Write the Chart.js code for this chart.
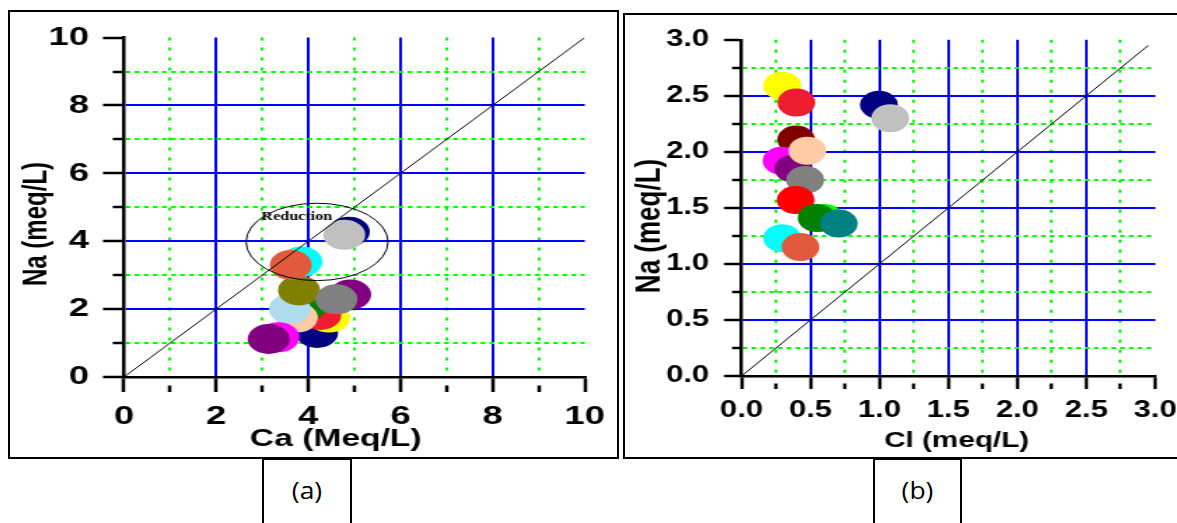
<!DOCTYPE html>
<html><head><meta charset="utf-8">
<script src="https://cdn.jsdelivr.net/npm/chart.js@4.4.1/dist/chart.umd.min.js"></script>
<style>
html,body{margin:0;padding:0;background:#fff;}
body{width:1177px;height:523px;overflow:hidden;position:relative;}
.panel{position:absolute;border:2px solid #000;box-sizing:border-box;background:#fff;}
.wrap{position:absolute;transform-origin:0 0;}
.lbl{position:absolute;border:2px solid #000;border-bottom:none;box-sizing:border-box;background:#fff;}
.lbl span{position:absolute;left:0;right:0;top:15px;line-height:30px;text-align:center;font-family:"Open Sans",Lato,sans-serif;font-size:23px;color:#000;transform:scaleX(1.15);}
</style></head>
<body>
<div class="panel" style="left:8px;top:10px;width:611px;height:449px;"></div>
<div class="panel" style="left:623px;top:13px;width:600px;height:446px;"></div>
<div class="wrap" style="left:10px;top:12px;transform:scaleX(1.4);"><canvas id="ca" width="434" height="444"></canvas></div>
<div class="wrap" style="left:626px;top:15px;transform:scaleX(1.35);"><canvas id="cb" width="416" height="441"></canvas></div>
<div class="lbl" style="left:262px;top:458px;width:90px;height:80px;"><span>(a)</span></div>
<div class="lbl" style="left:873px;top:458px;width:89px;height:80px;"><span>(b)</span></div>
<script>
// ---------- Data (a): Na vs Ca ----------
const caA = [4.19, 4.45, 4.26, 3.93, 3.75, 3.60, 3.35, 3.14, 3.80, 4.91, 4.61, 3.85, 3.62, 4.88, 4.78];
const naA = [1.30, 1.75, 1.83, 2.08, 1.75, 2.00, 1.17, 1.12, 2.55, 2.43, 2.29, 3.40, 3.30, 4.28, 4.19];
const colorsA = ['#000080','#FFFF00','#ED1C2E','#008000','#FFCBA4','#B0DCF0','#FF00FF','#800080',
                 '#808000','#800080','#808080','#00FFFF','#E15A3E','#000080','#C0C0C0'];
// ---------- Data (b): Na vs Cl ----------
const clB = [0.294, 0.397, 0.996, 1.078, 0.396, 0.290, 0.375, 0.477, 0.461, 0.392, 0.600, 0.545, 0.705, 0.294, 0.427];
const naB = [2.59, 2.44, 2.42, 2.30, 2.11, 1.92, 1.85, 2.01, 1.75, 1.57, 1.41, 1.41, 1.36, 1.23, 1.15];
const colorsB = ['#FFFF00','#ED1C2E','#000080','#C0C0C0','#800000','#FF00FF','#800080','#FFCBA4',
                 '#808080','#FF0000','#00FF00','#008000','#008080','#00FFFF','#E15A3E'];
// ---------- Axes ----------
const ticksA = [0,1,2,3,4,5,6,7,8,9,10];
const ticksB = [0,0.25,0.5,0.75,1,1.25,1.5,1.75,2,2.25,2.5,2.75,3];
const lineA = [0, 10];      // 1:1 line
const lineB = [0, 2.95];    // 1:1 line
const reductionCenter = [4.19, 3.98];
const reductionRadii = [1.54, 1.14];
const reductionLabelAt = [3.75, 4.72];

const FONT = '"Liberation Sans", Arial, sans-serif';

function axis(cfg) {
  const minor = v => !cfg.isMajor(v);
  return {
    type: 'linear', min: cfg.min, max: cfg.max,
    afterBuildTicks: s => { s.ticks = cfg.ticks.map(v => ({value: v})); },
    afterFit: cfg.fit,
    ticks: {
      autoSkip: false, maxRotation: 0, minRotation: 0, padding: cfg.pad, color: '#000',
      font: {family: FONT, weight: 'bold', size: cfg.fs},
      callback: v => cfg.isMajor(v) ? cfg.fmt(v) : ''
    },
    grid: {
      color: c => {
        if (!c.tick) return 'rgba(0,0,0,0)';
        const v = c.tick.value;
        if (v <= cfg.min + 1e-9 || v >= cfg.max - 1e-9) return 'rgba(0,0,0,0)';
        return cfg.isMajor(v) ? '#0000FF' : '#00FF00';
      },
      lineWidth: 2,
      drawTicks: true, tickLength: cfg.tl, tickWidth: 2.5, tickColor: '#000',
      tickBorderDash: c => (c.tick && minor(c.tick.value)) ? [0, cfg.tl - cfg.tlMinor, cfg.tlMinor + 3, 200] : []
    },
    border: {display: true, color: '#000', width: 2.5,
      dash: c => (c.tick && minor(c.tick.value)) ? cfg.dash : []},
    title: {display: true, text: cfg.title, color: '#000',
      font: {family: FONT, weight: 'bold', size: cfg.tfs}, padding: cfg.tpad}
  };
}

const reductionPlugin = {
  id: 'reduction',
  afterDatasetsDraw(chart) {
    const {ctx, scales: {x, y}} = chart;
    const cx = x.getPixelForValue(reductionCenter[0]);
    const cy = y.getPixelForValue(reductionCenter[1]);
    const rx = x.getPixelForValue(reductionCenter[0] + reductionRadii[0]) - cx;
    const ry = cy - y.getPixelForValue(reductionCenter[1] + reductionRadii[1]);
    ctx.save();
    ctx.beginPath();
    ctx.ellipse(cx, cy, rx, ry, 0, 0, Math.PI * 2);
    ctx.lineWidth = 1; ctx.strokeStyle = '#000'; ctx.stroke();
    ctx.font = 'bold 11.5px "Liberation Serif", "Times New Roman", serif';
    ctx.fillStyle = '#000'; ctx.textAlign = 'center'; ctx.textBaseline = 'middle';
    ctx.fillText('Reduction', x.getPixelForValue(reductionLabelAt[0]), y.getPixelForValue(reductionLabelAt[1]));
    ctx.restore();
  }
};

const common = {
  responsive: false, animation: false,
  plugins: {legend: {display: false}, tooltip: {enabled: false}}
};

const isIntEven = v => Math.abs(v / 2 - Math.round(v / 2)) < 1e-9;
const isHalf = v => Math.abs(v * 2 - Math.round(v * 2)) < 1e-9;

new Chart(document.getElementById('ca'), {
  type: 'scatter',
  data: {datasets: [
    {data: lineA.map(v => ({x: v, y: v})), showLine: true, borderColor: '#000', borderWidth: 1,
     pointRadius: 0, order: 0},
    {data: caA.map((x, i) => ({x, y: naA[i]})), backgroundColor: colorsA, pointRadius: 15,
     pointHoverRadius: 15, pointBorderWidth: 0, borderWidth: 0, order: 1}
  ]},
  options: Object.assign({}, common, {
    layout: {padding: {left: 0, top: 21, right: 18.3, bottom: 0}},
    scales: {
      x: axis({min: 0, max: 10, ticks: ticksA, isMajor: isIntEven, fmt: v => String(v),
        fit: s => { s.height = 79; }, pad: 9, fs: 26, tl: 15, tlMinor: 8, dash: [3, 7],
        title: 'Ca (Meq/L)    ', tfs: 24, tpad: {top: 0, bottom: 2}}),
      y: axis({min: 0, max: 10, ticks: ticksA, isMajor: isIntEven, fmt: v => String(v),
        fit: s => { s.width = 81.4; }, pad: 10, fs: 26, tl: 15, tlMinor: 8, dash: [3.5, 3],
        title: 'Na (meq/L)     ', tfs: 24, tpad: {top: 4.5, bottom: 0}})
    }
  }),
  plugins: [reductionPlugin]
});

new Chart(document.getElementById('cb'), {
  type: 'scatter',
  data: {datasets: [
    {data: lineB.map(v => ({x: v, y: v})), showLine: true, borderColor: '#000', borderWidth: 1,
     pointRadius: 0, order: 0},
    {data: clB.map((x, i) => ({x, y: naB[i]})), backgroundColor: colorsB, pointRadius: 14,
     pointHoverRadius: 14, pointBorderWidth: 0, borderWidth: 0, order: 1}
  ]},
  options: Object.assign({}, common, {
    layout: {padding: {left: 0, top: 18.3, right: 19.9, bottom: 0}},
    scales: {
      x: axis({min: 0, max: 3, ticks: ticksB, isMajor: isHalf, fmt: v => v.toFixed(1),
        fit: s => { s.height = 80; }, pad: 8, fs: 23, tl: 13, tlMinor: 7, dash: [3, 7],
        title: '  Cl (meq/L)', tfs: 22, tpad: {top: 0, bottom: 2}}),
      y: axis({min: 0, max: 3, ticks: ticksB, isMajor: isHalf, fmt: v => v.toFixed(1),
        fit: s => { s.width = 85.6; }, pad: 11, fs: 23, tl: 13, tlMinor: 7, dash: [3.5, 3],
        title: 'Na (meq/L)     ', tfs: 26, tpad: {top: 2.3, bottom: 0}})
    }
  })
});
</script>
</body></html>
